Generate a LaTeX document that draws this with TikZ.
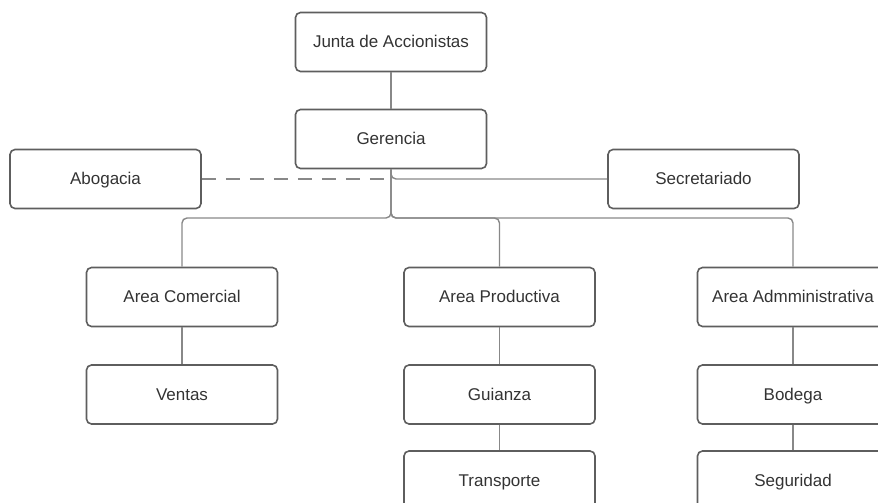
\documentclass[tikz,border=0pt]{standalone}
\usepackage{fontspec}
\setmainfont{Liberation Sans}
\definecolor{boxline}{HTML}{5E5E5E}
\definecolor{linkline}{HTML}{888888}
\definecolor{labeltext}{HTML}{333333}
\tikzset{
  unit/.style={draw=boxline, line width=1.6pt, rounded corners=5pt,
    minimum width=191pt, minimum height=59pt, inner sep=0pt,
    text height=11.5pt, text depth=0.5pt,
    text=labeltext, font=\fontsize{17}{20}\selectfont},
  link/.style={draw=linkline, line width=1.4pt, rounded corners=5pt},
  dottedlink/.style={link, dash pattern=on 14pt off 10pt}
}

\begin{document}
\begin{tikzpicture}[x=1pt,y=-1pt]
  \useasboundingbox (0,0) rectangle (878,503);
  \clip (0,0) rectangle (878,503);
  \coordinate (bus) at (0,218);
  \node[unit] (junta) at (391,42) {Junta de Accionistas};
  \node[unit] (gerencia) at (391,139) {Gerencia};
  \node[unit] (abogacia) at (105.5,179) {Abogacia};
  \node[unit] (secretariado) at (703.5,179) {Secretariado};
  \node[unit] (comercial) at (182,297) {Area Comercial};
  \node[unit] (ventas) at (182,394.5) {Ventas};
  \node[unit] (productiva) at (499.5,297) {Area Productiva};
  \node[unit] (guianza) at (499.5,394.5) {Guianza};
  \node[unit] (transporte) at (499.5,480.5) {Transporte};
  \node[unit] (administrativa) at (793,297) {Area Admministrativa};
  \node[unit] (bodega) at (793,394.5) {Bodega};
  \node[unit] (seguridad) at (793,480.5) {Seguridad};
  \draw[link] (junta) -- (gerencia);
  \draw[link] (gerencia.south) |- (secretariado.west);
  \draw[dottedlink] (abogacia.east) -- (gerencia.south |- abogacia.east);
  \foreach \area in {comercial,productiva,administrativa}
    \draw[link] (gerencia.south) -- (gerencia.south |- bus) -| (\area.north);
  \draw[link] (comercial) -- (ventas);
  \draw[link] (productiva) -- (guianza);
  \draw[link] (guianza) -- (transporte);
  \draw[link] (administrativa) -- (bodega);
  \draw[link] (bodega) -- (seguridad);
\end{tikzpicture}
\end{document}
